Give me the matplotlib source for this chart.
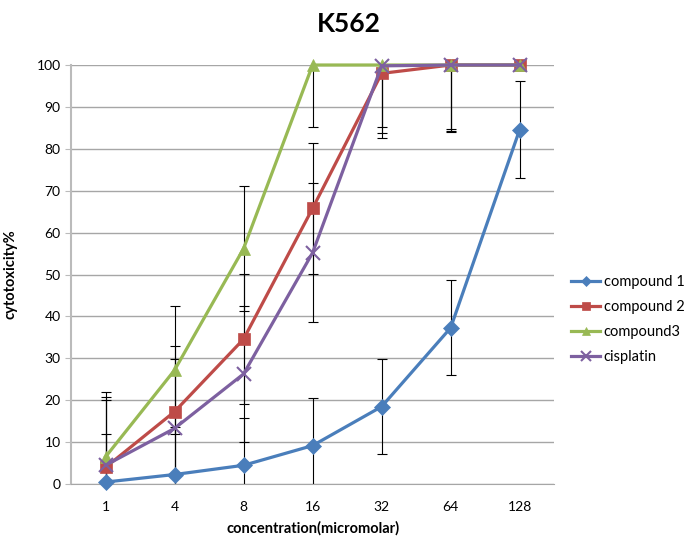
import matplotlib.pyplot as plt
import numpy as np

plt.rcParams['font.family'] = ['Lato', 'DejaVu Sans']

concentrations = ['1', '4', '8', '16', '32', '64', '128']

compound1 = [0.5, 2.3, 4.5, 9.2, 18.5, 37.3, 84.6]
compound2 = [4.0, 17.3, 34.6, 65.8, 98.0, 100, 100]
compound3 = [6.5, 27.2, 56.2, 100, 100, 100, 100]
cisplatin = [4.5, 13.3, 26.3, 55.2, 99.8, 100, 100]

err1 = [11.5, 11.3, 11.4, 11.3, 11.3, 11.3, 11.5]
err2 = [16.0, 15.7, 15.5, 15.6, 15.3, 15.8, 0]
err3 = [15.6, 15.2, 15.0, 14.9, 14.9, 15.3, 0]
err_cis = [16.3, 16.6, 16.3, 16.6, 16.1, 16.0, 0]

series = [
    ('compound 1', compound1, err1, '#4A7EBB', 'D', 8),
    ('compound 2', compound2, err2, '#BE4B48', 's', 9),
    ('compound3', compound3, err3, '#98B954', '^', 9),
    ('cisplatin', cisplatin, err_cis, '#7D60A0', 'x', 10),
]

fig = plt.figure(figsize=(6.98, 5.44), dpi=100)
ax = fig.add_axes([0.1017, 0.110, 0.6923, 0.7705])

x = np.arange(len(concentrations))

# error bars first so the lines sit on top
for name, vals, errs, color, marker, ms in series:
    ax.errorbar(x, vals, yerr=errs, fmt='none', ecolor='black', elinewidth=0.8,
                capsize=3.5, capthick=0.8, zorder=2)

for name, vals, errs, color, marker, ms in series:
    ax.plot(x, vals, color=color, linewidth=2.3, marker=marker, markersize=ms,
            markeredgewidth=1.5 if marker == 'x' else 0.5, markeredgecolor=color,
            label=name, zorder=3, clip_on=False)

ax.set_xlim(-0.5, len(concentrations) - 0.5)
ax.set_ylim(0, 100)
ax.set_yticks(np.arange(0, 101, 10))
ax.set_xticks(x)
ax.set_xticklabels(concentrations)
ax.tick_params(axis='x', length=0, labelsize=10, pad=12)
ax.tick_params(axis='y', length=4, color='#BBBBBB', labelsize=10)

ax.grid(axis='y', color='#A6A6A6', linewidth=1)
ax.set_axisbelow(True)
for side in ['top', 'right']:
    ax.spines[side].set_visible(False)
ax.spines['left'].set_color('#BBBBBB')
ax.spines['left'].set_linewidth(1.5)
ax.spines['bottom'].set_color('#A6A6A6')

ax.set_xlabel('concentration(micromolar)', fontsize=10.5, fontweight='bold', labelpad=6)
ax.set_ylabel('cytotoxicity%', fontsize=10.5, fontweight='bold', labelpad=14)
fig.text(0.5, 0.955, 'K562', ha='center', va='center', fontsize=19, fontweight='bold')

fig.legend(loc='center left', bbox_to_anchor=(0.818, 0.412), frameon=False, fontsize=10.5,
           handlelength=2.0, labelspacing=0.75, handletextpad=0.25, markerscale=0.7,
           borderaxespad=0, borderpad=0)

fig.savefig('out.png', dpi=100)
